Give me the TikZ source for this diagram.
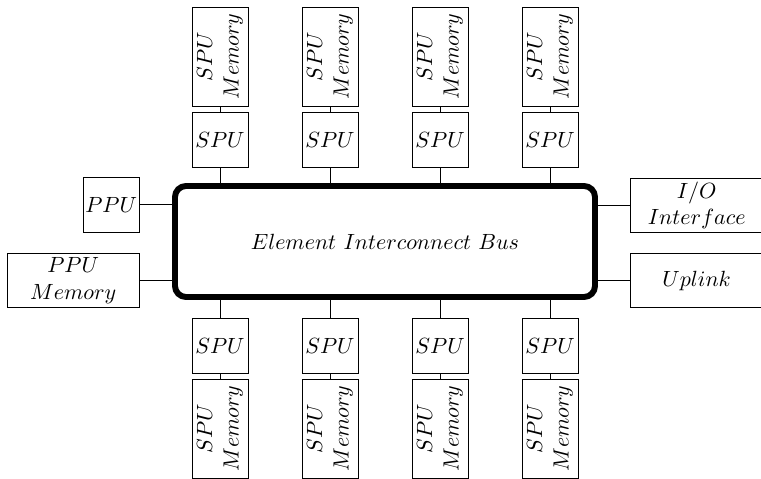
\documentclass[tikz,border=0pt]{standalone}
\usepackage{tikz}
\begin{document}
\begin{tikzpicture}[x=0.4545pt,y=-0.4545pt,
  box/.style={draw,inner sep=0pt,align=center,line width=0.45pt},
  spubox/.style={box,minimum width={56*0.4545pt},minimum height={55*0.4545pt}},
  membox/.style={box,rotate=90,minimum width={99*0.4545pt},minimum height={56*0.4545pt}},
  sidebox/.style={box,minimum width={132*0.4545pt},minimum height={54.5*0.4545pt}},
  link/.style={line width=0.45pt}]
\useasboundingbox (0,0) rectangle (761,479);
\clip (0,0) rectangle (761,479);

% central bus
\node[draw,line width=2.7pt,rounded corners=5pt,minimum width={420*0.4545pt},minimum height={111*0.4545pt}]
  (bus) at (385,241.5) {$Element\ Interconnect\ Bus$};

% SPUs with their memories, above and below the bus
\foreach \i/\x in {1/220,2/330,3/440,4/550}{
  \node[membox] (tm\i) at (\x,56.6) {$SPU$\\$Memory$};
  \node[spubox] (ts\i) at (\x,139.8) {$SPU$};
  \node[spubox] (bs\i) at (\x,345.8) {$SPU$};
  \node[membox] (bm\i) at (\x,428.6) {$SPU$\\$Memory$};
  \draw[link] (tm\i.west) -- (ts\i.north);
  \draw[link] (ts\i.south) -- (ts\i.south |- bus.north);
  \draw[link] (bs\i.north) -- (bs\i.north |- bus.south);
  \draw[link] (bs\i.south) -- (bm\i.east);
}

% left side
\node[spubox] (ppu) at (111.2,204.8) {$PPU$};
\node[sidebox] (ppumem) at (73.2,280.5) {$PPU$\\$Memory$};
\draw[link] (ppu.east) -- (ppu.east -| bus.west);
\draw[link] (ppumem.east) -- (ppumem.east -| bus.west);

% right side
\node[sidebox] (io) at (696.7,205.3) {$I/O$\\$Interface$};
\node[sidebox] (uplink) at (696.7,280.5) {$Uplink$};
\draw[link] (io.west) -- (io.west -| bus.east);
\draw[link] (uplink.west) -- (uplink.west -| bus.east);
\end{tikzpicture}
\end{document}
